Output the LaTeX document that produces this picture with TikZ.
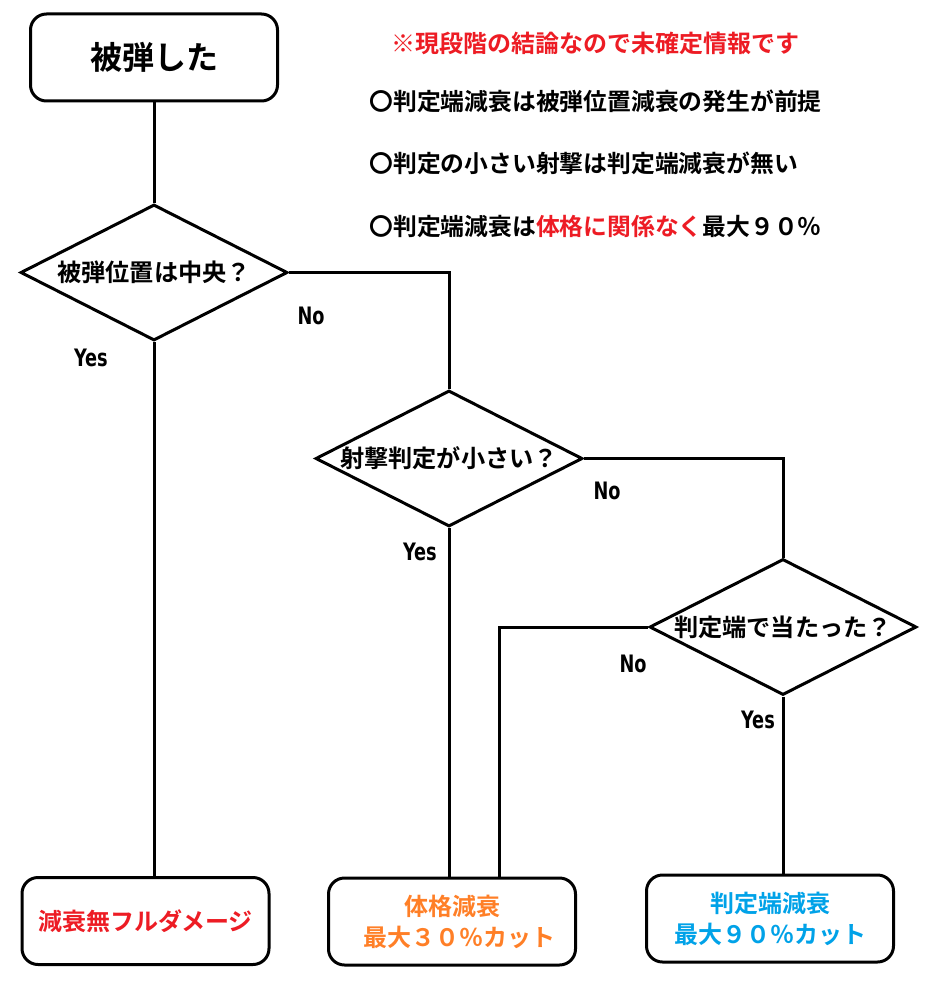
\documentclass[tikz,border=0pt]{standalone}
\usepackage{fontspec}
\newfontfamily\jp{Noto Sans CJK JP}[BoldFont={Noto Sans CJK JP Bold}]
\newfontfamily\ynfont{DejaVu Sans Condensed}[BoldFont={DejaVu Sans Condensed Bold}]
\usetikzlibrary{shapes.geometric}
\definecolor{pred}{RGB}{237,28,36}
\definecolor{porange}{RGB}{255,127,39}
\definecolor{pblue}{RGB}{0,162,232}
\begin{document}
\begin{tikzpicture}[x=1pt,y=-1pt,line width=3pt,
  box/.style={draw,rounded corners=16pt,minimum width=247pt,minimum height=87pt,inner sep=0pt,align=center,
    font=\jp\bfseries\fontsize{24}{31}\selectfont},
  dia/.style={draw,diamond,aspect=2,inner sep=0pt,minimum width=267pt,minimum height=136pt,
    font=\jp\bfseries\fontsize{24.2}{24}\selectfont},
  ynlab/.style={inner sep=0pt,font=\ynfont\bfseries\fontsize{24}{24}\selectfont},
  note/.style={anchor=west,inner sep=0pt,font=\jp\bfseries\fontsize{23.8}{24}\selectfont},
  conn/.style={draw,line width=3pt}]
\useasboundingbox[fill=white] (0,0) rectangle (947,987);

\node[box,font=\jp\bfseries\fontsize{32}{32}\selectfont] (start) at (154,57.5) {被弾した};

\node[dia] (d1) at (154,272.5) {被弾位置は中央？};
\node[dia] (d2) at (449,458.5) {射撃判定が小さい？};
\node[dia] (d3) at (783,627) {判定端で当たった？};

\node[box,text=pred] (r1) at (145.5,921) {減衰無フルダメージ};
\node[box,text=porange] (r2) at (452,921.5) {体格減衰\\\hspace*{0.6em}最大３０％カット};
\node[box,text=pblue] (r3) at (770,918.5) {判定端減衰\\最大９０％カット};

\draw[conn] (start) -- (d1);
\draw[conn] (d1.south) -- (d1.south |- r1.north);
\draw[conn] (d1.east) -| (d2.north);
\draw[conn] (d2.south) -- (d2.south |- r2.north);
\draw[conn] (d2.east) -| (d3.north);
\draw[conn] (d3.west) -| ([xshift=47pt]r2.north);
\draw[conn] (d3.south) -- (d3.south |- r3.north);

\node[ynlab] (y1) at (91,358) {\scalebox{0.82}[1]{Yes}};
\node[ynlab] (n1) at (311,316) {\scalebox{0.82}[1]{No}};
\node[ynlab] (y2) at (420,552) {\scalebox{0.82}[1]{Yes}};
\node[ynlab] (n2) at (607,491) {\scalebox{0.82}[1]{No}};
\node[ynlab] (n3) at (633,664) {\scalebox{0.82}[1]{No}};
\node[ynlab] (y3) at (758,720) {\scalebox{0.82}[1]{Yes}};

\node[note,text=pred,font=\jp\bfseries\fontsize{24}{24}\selectfont] (warn) at (390,43) {※現段階の結論なので未確定情報です};
\node[note] (n1t) at (368,101) {〇判定端減衰は被弾位置減衰の発生が前提};
\node[note] (n2t) at (368,163) {〇判定の小さい射撃は判定端減衰が無い};
\node[note] (n3t) at (368,227) {〇判定端減衰は\textcolor{pred}{体格に関係なく}最大９０％};
\end{tikzpicture}
\end{document}
